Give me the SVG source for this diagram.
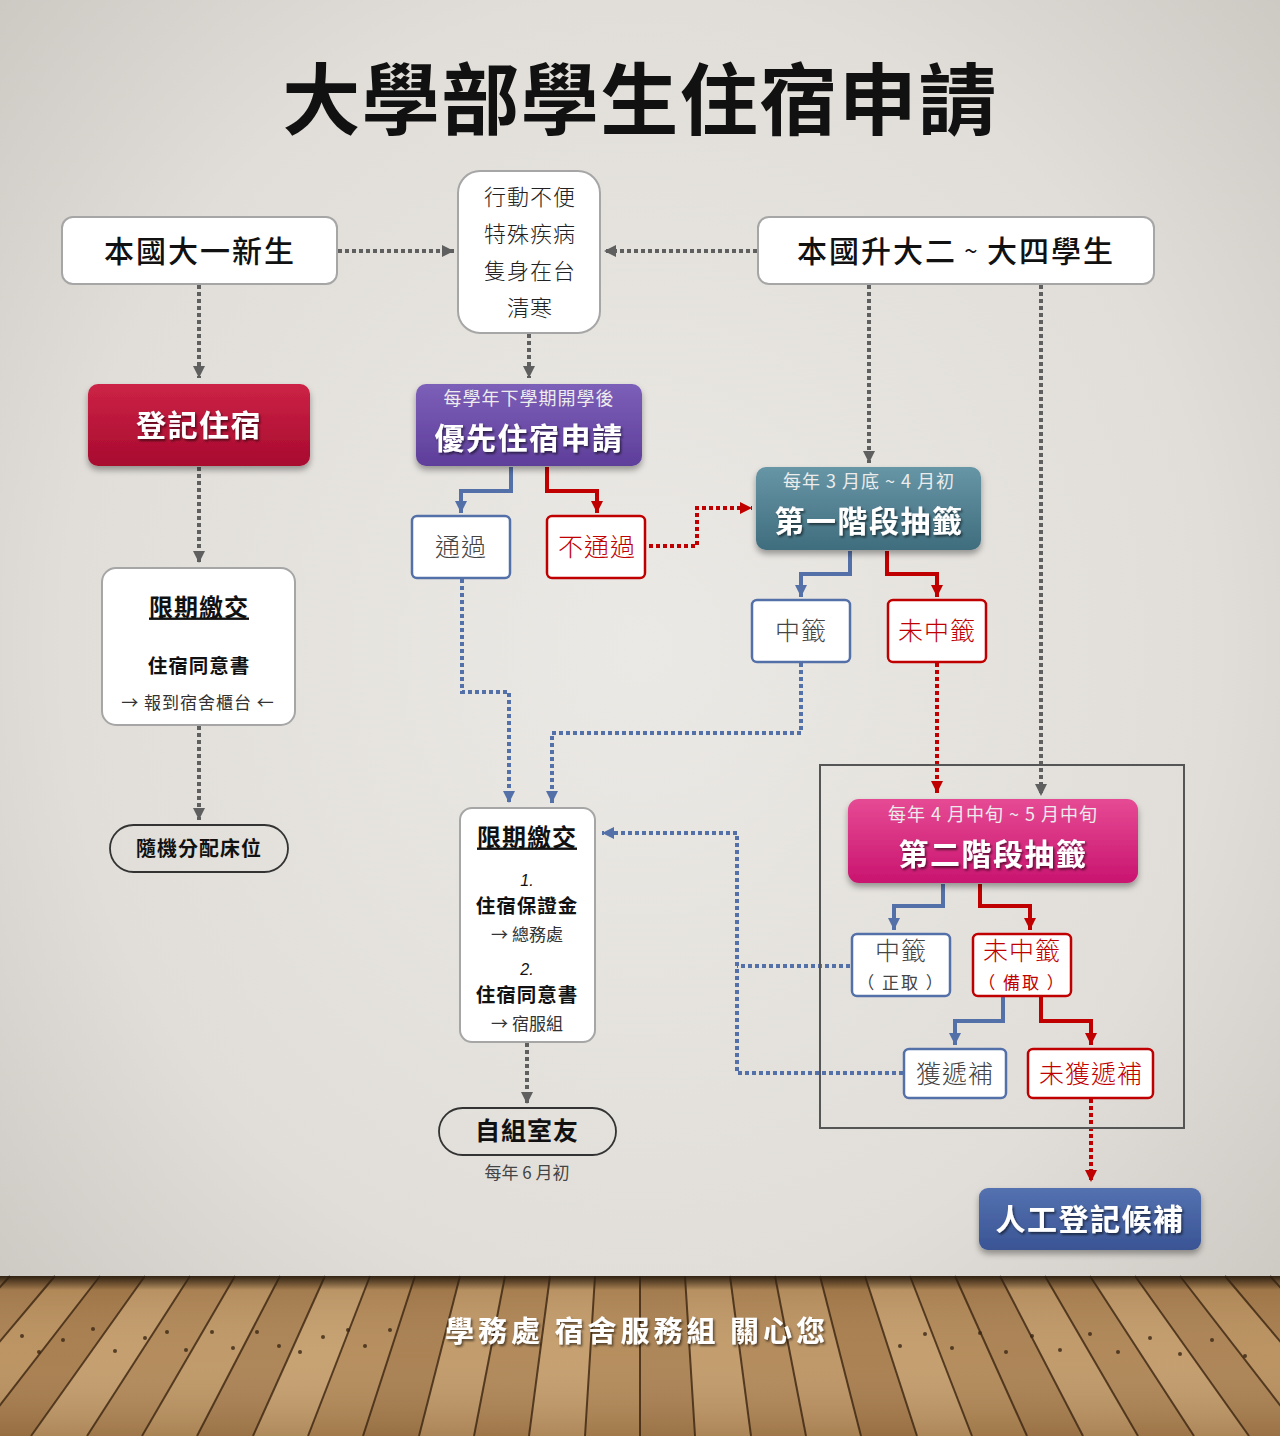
<svg xmlns="http://www.w3.org/2000/svg" width="1280" height="1436" viewBox="0 0 1280 1436">
<defs>
<radialGradient id="wall" cx="0.5" cy="0.45" r="0.75">
<stop offset="0" stop-color="#ebe9e5"/>
<stop offset="0.6" stop-color="#e1ded9"/>
<stop offset="1" stop-color="#c6c2bc"/>
</radialGradient>
<linearGradient id="floorShade" x1="0" y1="0" x2="0" y2="1">
<stop offset="0" stop-color="#2a1d10" stop-opacity="0.95"/>
<stop offset="1" stop-color="#2a1d10" stop-opacity="0"/>
</linearGradient>
<linearGradient id="floorTone" x1="0" y1="0" x2="0" y2="1">
<stop offset="0" stop-color="#5a3a1a" stop-opacity="0.15"/>
<stop offset="0.5" stop-color="#ffffff" stop-opacity="0.05"/>
<stop offset="1" stop-color="#5a3a1a" stop-opacity="0.2"/>
</linearGradient>
<linearGradient id="gRed" x1="0" y1="0" x2="0" y2="1">
<stop offset="0" stop-color="#cc2346"/>
<stop offset="1" stop-color="#a80a2f"/>
</linearGradient>
<linearGradient id="gPurple" x1="0" y1="0" x2="0" y2="1">
<stop offset="0" stop-color="#7c5fb8"/>
<stop offset="1" stop-color="#5e3e9a"/>
</linearGradient>
<linearGradient id="gTeal" x1="0" y1="0" x2="0" y2="1">
<stop offset="0" stop-color="#6796a6"/>
<stop offset="1" stop-color="#3f6d7e"/>
</linearGradient>
<linearGradient id="gPink" x1="0" y1="0" x2="0" y2="1">
<stop offset="0" stop-color="#e64a94"/>
<stop offset="1" stop-color="#c9146f"/>
</linearGradient>
<linearGradient id="gBlue" x1="0" y1="0" x2="0" y2="1">
<stop offset="0" stop-color="#5471b0"/>
<stop offset="1" stop-color="#3a5494"/>
</linearGradient>
<filter id="shadow" x="-10%" y="-10%" width="120%" height="130%">
<feDropShadow dx="0" dy="4" stdDeviation="3" flood-color="#000" flood-opacity="0.35"/>
</filter>
<filter id="tshadow" x="-10%" y="-20%" width="120%" height="150%">
<feDropShadow dx="1.5" dy="2" stdDeviation="1" flood-color="#000" flood-opacity="0.55"/>
</filter>
<marker id="aGray" markerUnits="userSpaceOnUse" markerWidth="13" markerHeight="12" refX="12" refY="6" orient="auto">
<path d="M0,0 L12,6 L0,12 z" fill="#5f5f5f"/>
</marker>
<marker id="aBlue" markerUnits="userSpaceOnUse" markerWidth="13" markerHeight="12" refX="12" refY="6" orient="auto">
<path d="M0,0 L12,6 L0,12 z" fill="#5470a8"/>
</marker>
<marker id="aRed" markerUnits="userSpaceOnUse" markerWidth="13" markerHeight="12" refX="12" refY="6" orient="auto">
<path d="M0,0 L12,6 L0,12 z" fill="#c00000"/>
</marker>
</defs>
<style>
text { font-family: "Noto Sans CJK TC", "Noto Sans CJK SC", "Liberation Sans", sans-serif; dominant-baseline: central; text-anchor: middle; }
.wbox { fill: #ffffff; stroke: #a6a6a6; stroke-width: 2; }
.bbox { fill: #ffffff; stroke: #5470a8; stroke-width: 2.5; }
.rbox { fill: #ffffff; stroke: #c00000; stroke-width: 2.5; }
.pill { fill: none; stroke: #333333; stroke-width: 1.8; }
.big { font-size: 30px; font-weight: 500; fill: #111; letter-spacing: 2px; }
.cbig { font-size: 30px; font-weight: 700; fill: #ffffff; letter-spacing: 1.5px; }
.csub { font-size: 18px; fill: #ececec; letter-spacing: 1px; }
.reg { font-size: 25px; font-weight: 300; fill: #444; letter-spacing: 1px; }
.regr { font-size: 25px; font-weight: 300; fill: #c00000; letter-spacing: 1px; }
.sm { font-size: 17px; font-weight: 400; fill: #333; }
.hd { font-size: 24px; font-weight: 700; fill: #111; letter-spacing: 1px; text-decoration: underline; }
.bd { font-size: 19.5px; font-weight: 700; fill: #111; letter-spacing: 1px; }
.num { font-size: 16px; font-style: italic; font-family: "Liberation Sans", sans-serif; fill: #111; }
.dG { fill: none; stroke: #5f5f5f; stroke-width: 4; stroke-dasharray: 4 3; }
.dB { fill: none; stroke: #5470a8; stroke-width: 4; stroke-dasharray: 4 3; }
.dR { fill: none; stroke: #c00000; stroke-width: 4; stroke-dasharray: 4 3; }
.sB { fill: none; stroke: #5470a8; stroke-width: 4; }
.sR { fill: none; stroke: #c00000; stroke-width: 4; }
.plank { stroke: #3a2410; stroke-width: 2; opacity: 0.8; }
</style>

<!-- background -->
<rect x="0" y="0" width="1280" height="1436" fill="url(#wall)"/>
<g id="floor-area">
<rect x="0" y="1276" width="1280" height="160" fill="#b48a58"/>
<g>
<polygon points="10,1276 55,1276 -80,1436 -135,1436" fill="#a87e4e"/>
<polygon points="55,1276 100,1276 -24,1436 -80,1436" fill="#b98f5c"/>
<polygon points="100,1276 145,1276 31,1436 -24,1436" fill="#a57a49"/>
<polygon points="145,1276 190,1276 87,1436 31,1436" fill="#c29a68"/>
<polygon points="190,1276 235,1276 142,1436 87,1436" fill="#b08655"/>
<polygon points="235,1276 280,1276 197,1436 142,1436" fill="#bd9562"/>
<polygon points="280,1276 325,1276 253,1436 197,1436" fill="#a98050"/>
<polygon points="325,1276 370,1276 308,1436 253,1436" fill="#c49d6b"/>
<polygon points="370,1276 415,1276 363,1436 308,1436" fill="#b38957"/>
<polygon points="415,1276 460,1276 419,1436 363,1436" fill="#a67c4c"/>
<polygon points="460,1276 505,1276 474,1436 419,1436" fill="#bf9765"/>
<polygon points="505,1276 550,1276 529,1436 474,1436" fill="#ae8453"/>
<polygon points="550,1276 595,1276 585,1436 529,1436" fill="#c39b69"/>
<polygon points="595,1276 640,1276 640,1436 585,1436" fill="#b28856"/>
<polygon points="640,1276 685,1276 695,1436 640,1436" fill="#a98050"/>
<polygon points="685,1276 730,1276 751,1436 695,1436" fill="#c09866"/>
<polygon points="730,1276 775,1276 806,1436 751,1436" fill="#b08655"/>
<polygon points="775,1276 820,1276 861,1436 806,1436" fill="#bc9361"/>
<polygon points="820,1276 865,1276 917,1436 861,1436" fill="#a67b4a"/>
<polygon points="865,1276 910,1276 972,1436 917,1436" fill="#c29a68"/>
<polygon points="910,1276 955,1276 1027,1436 972,1436" fill="#b18755"/>
<polygon points="955,1276 1000,1276 1083,1436 1027,1436" fill="#a87e4e"/>
<polygon points="1000,1276 1045,1276 1138,1436 1083,1436" fill="#be9664"/>
<polygon points="1045,1276 1090,1276 1194,1436 1138,1436" fill="#ad8352"/>
<polygon points="1090,1276 1135,1276 1249,1436 1194,1436" fill="#c19967"/>
<polygon points="1135,1276 1180,1276 1304,1436 1249,1436" fill="#a97f4f"/>
<polygon points="1180,1276 1225,1276 1360,1436 1304,1436" fill="#b88e5b"/>
<polygon points="1225,1276 1270,1276 1415,1436 1360,1436" fill="#a57a49"/>
<polygon points="1270,1276 1315,1276 1470,1436 1415,1436" fill="#bb9260"/>
</g>
<rect x="0" y="1276" width="1280" height="160" fill="url(#floorTone)"/>
<g>
<line class="plank" x1="640" y1="1276" x2="640" y2="1436"/>
<line class="plank" x1="685" y1="1276" x2="695" y2="1436"/>
<line class="plank" x1="730" y1="1276" x2="751" y2="1436"/>
<line class="plank" x1="775" y1="1276" x2="806" y2="1436"/>
<line class="plank" x1="820" y1="1276" x2="861" y2="1436"/>
<line class="plank" x1="865" y1="1276" x2="917" y2="1436"/>
<line class="plank" x1="910" y1="1276" x2="972" y2="1436"/>
<line class="plank" x1="955" y1="1276" x2="1027" y2="1436"/>
<line class="plank" x1="1000" y1="1276" x2="1083" y2="1436"/>
<line class="plank" x1="1045" y1="1276" x2="1138" y2="1436"/>
<line class="plank" x1="1090" y1="1276" x2="1194" y2="1436"/>
<line class="plank" x1="1135" y1="1276" x2="1249" y2="1436"/>
<line class="plank" x1="1180" y1="1276" x2="1304" y2="1436"/>
<line class="plank" x1="1225" y1="1276" x2="1360" y2="1436"/>
<line class="plank" x1="1270" y1="1276" x2="1415" y2="1436"/>
<line class="plank" x1="595" y1="1276" x2="585" y2="1436"/>
<line class="plank" x1="550" y1="1276" x2="529" y2="1436"/>
<line class="plank" x1="505" y1="1276" x2="474" y2="1436"/>
<line class="plank" x1="460" y1="1276" x2="419" y2="1436"/>
<line class="plank" x1="415" y1="1276" x2="363" y2="1436"/>
<line class="plank" x1="370" y1="1276" x2="308" y2="1436"/>
<line class="plank" x1="325" y1="1276" x2="253" y2="1436"/>
<line class="plank" x1="280" y1="1276" x2="197" y2="1436"/>
<line class="plank" x1="235" y1="1276" x2="142" y2="1436"/>
<line class="plank" x1="190" y1="1276" x2="87" y2="1436"/>
<line class="plank" x1="145" y1="1276" x2="31" y2="1436"/>
<line class="plank" x1="100" y1="1276" x2="-24" y2="1436"/>
<line class="plank" x1="55" y1="1276" x2="-80" y2="1436"/>
<line class="plank" x1="10" y1="1276" x2="-135" y2="1436"/>
</g>
<g fill="#3a2614" opacity="0.8">
<circle cx="22" cy="1336" r="2"/><circle cx="39" cy="1352" r="2"/><circle cx="63" cy="1340" r="2"/><circle cx="93" cy="1329" r="2"/><circle cx="115" cy="1351" r="2"/><circle cx="145" cy="1338" r="2"/><circle cx="167" cy="1332" r="2"/><circle cx="186" cy="1350" r="2"/><circle cx="212" cy="1332" r="2"/><circle cx="233" cy="1348" r="2"/><circle cx="257" cy="1332" r="2"/><circle cx="279" cy="1346" r="2"/><circle cx="300" cy="1352" r="2"/><circle cx="323" cy="1337" r="2"/><circle cx="348" cy="1330" r="2"/><circle cx="365" cy="1346" r="2"/><circle cx="390" cy="1330" r="2"/><circle cx="900" cy="1346" r="2"/><circle cx="925" cy="1334" r="2"/><circle cx="952" cy="1348" r="2"/><circle cx="980" cy="1333" r="2"/><circle cx="1006" cy="1352" r="2"/><circle cx="1032" cy="1336" r="2"/><circle cx="1060" cy="1350" r="2"/><circle cx="1090" cy="1334" r="2"/><circle cx="1118" cy="1352" r="2"/><circle cx="1150" cy="1338" r="2"/><circle cx="1180" cy="1354" r="2"/><circle cx="1212" cy="1340" r="2"/><circle cx="1245" cy="1356" r="2"/>
</g>
<rect x="0" y="1276" width="1280" height="14" fill="url(#floorShade)"/>
</g>

<!-- title -->
<text id="title" x="640" y="95" style="font-size:78px;font-weight:700;fill:#111;letter-spacing:1.5px">大學部學生住宿申請</text>

<!-- connectors -->
<g id="connectors">
<path class="dG" d="M338,251 H454" marker-end="url(#aGray)"/>
<path class="dG" d="M757,251 H604" marker-end="url(#aGray)"/>
<path class="dG" d="M199,285 V378" marker-end="url(#aGray)"/>
<path class="dG" d="M529,334 V378" marker-end="url(#aGray)"/>
<path class="dG" d="M869,285 V463" marker-end="url(#aGray)"/>
<path class="dG" d="M1041,285 V796" marker-end="url(#aGray)"/>
<path class="dG" d="M199,467 V563" marker-end="url(#aGray)"/>
<path class="dG" d="M199,726 V820" marker-end="url(#aGray)"/>
<path class="dG" d="M527,1043 V1104" marker-end="url(#aGray)"/>

<path class="sB" d="M511,467 V491 H461 V513" marker-end="url(#aBlue)"/>
<path class="sR" d="M547,467 V491 H597 V513" marker-end="url(#aRed)"/>
<path class="dR" d="M649,546 H697 V508 H752" marker-end="url(#aRed)"/>

<path class="sB" d="M850,551 V574 H801 V597" marker-end="url(#aBlue)"/>
<path class="sR" d="M887,551 V574 H937 V597" marker-end="url(#aRed)"/>

<path class="dB" d="M462,579 V692 H509 V803" marker-end="url(#aBlue)"/>
<path class="dB" d="M801,663 V733 H552 V803" marker-end="url(#aBlue)"/>
<path class="dR" d="M937,663 V793" marker-end="url(#aRed)"/>

<path class="sB" d="M943,884 V906 H894 V930" marker-end="url(#aBlue)"/>
<path class="sR" d="M980,884 V906 H1030 V930" marker-end="url(#aRed)"/>
<path class="sB" d="M1003,997 V1021 H955 V1045" marker-end="url(#aBlue)"/>
<path class="sR" d="M1041,997 V1021 H1091 V1045" marker-end="url(#aRed)"/>

<path class="dB" d="M850,966 H737"/>
<path class="dB" d="M903,1073 H737 V833 H602" marker-end="url(#aBlue)"/>
<path class="dR" d="M1091,1099 V1182" marker-end="url(#aRed)"/>
</g>

<!-- frame -->
<rect id="stage2-frame" x="820" y="765" width="364" height="363" fill="none" stroke="#555" stroke-width="2"/>

<!-- nodes -->
<g id="n-freshman">
<rect class="wbox" x="62" y="217" width="275" height="67" rx="11"/>
<text class="big" x="200" y="249">本國大一新生</text>
</g>
<g id="n-special">
<rect class="wbox" x="458" y="171" width="142" height="162" rx="22"/>
<text class="sm" x="530" y="195" style="font-size:22px;font-weight:300;fill:#222;letter-spacing:1px">行動不便</text>
<text class="sm" x="530" y="232" style="font-size:22px;font-weight:300;fill:#222;letter-spacing:1px">特殊疾病</text>
<text class="sm" x="530" y="269" style="font-size:22px;font-weight:300;fill:#222;letter-spacing:1px">隻身在台</text>
<text class="sm" x="530" y="306" style="font-size:22px;font-weight:300;fill:#222;letter-spacing:1px">清寒</text>
</g>
<g id="n-upper">
<rect class="wbox" x="758" y="217" width="396" height="67" rx="11"/>
<text class="big" x="956" y="249">本國升大二<tspan style="font-size:24px;font-weight:400"> ~ </tspan>大四學生</text>
</g>
<g id="n-register">
<rect x="88" y="384" width="222" height="82" rx="10" fill="url(#gRed)" filter="url(#shadow)"/>
<text class="cbig" x="199" y="423" filter="url(#tshadow)">登記住宿</text>
</g>
<g id="n-priority">
<rect x="416" y="384" width="226" height="82" rx="10" fill="url(#gPurple)" filter="url(#shadow)"/>
<text class="csub" x="529" y="397">每學年下學期開學後</text>
<text class="cbig" x="529" y="436" filter="url(#tshadow)">優先住宿申請</text>
</g>
<g id="n-stage1">
<rect x="756" y="467" width="225" height="83" rx="10" fill="url(#gTeal)" filter="url(#shadow)"/>
<text class="csub" x="869" y="480">每年 3 月底 ~ 4 月初</text>
<text class="cbig" x="869" y="519" filter="url(#tshadow)">第一階段抽籤</text>
</g>
<g id="n-pass">
<rect class="bbox" x="412" y="516" width="98" height="62" rx="5"/>
<text class="reg" x="461" y="545">通過</text>
</g>
<g id="n-fail">
<rect class="rbox" x="547" y="516" width="98" height="62" rx="5"/>
<text class="regr" x="597" y="545">不通過</text>
</g>
<g id="n-win1">
<rect class="bbox" x="752" y="600" width="98" height="62" rx="5"/>
<text class="reg" x="801" y="629">中籤</text>
</g>
<g id="n-lose1">
<rect class="rbox" x="888" y="600" width="98" height="62" rx="5"/>
<text class="regr" x="937" y="629">未中籤</text>
</g>
<g id="n-pay-left">
<rect class="wbox" x="102" y="568" width="193" height="157" rx="14"/>
<text class="hd" x="199" y="605">限期繳交</text>
<text class="bd" x="199" y="664">住宿同意書</text>
<text class="sm" x="198" y="701" style="letter-spacing:1px">→ 報到宿舍櫃台 ←</text>
</g>
<g id="n-random">
<rect class="pill" x="110" y="825" width="178" height="47" rx="23.5"/>
<text class="bd" x="199" y="847" style="font-size:20px">隨機分配床位</text>
</g>
<g id="n-pay-mid">
<rect class="wbox" x="460" y="808" width="135" height="234" rx="12"/>
<text class="hd" x="527" y="835">限期繳交</text>
<text class="num" x="527" y="880">1.</text>
<text class="bd" x="527" y="904">住宿保證金</text>
<text class="sm" x="527" y="933">→ 總務處</text>
<text class="num" x="527" y="969">2.</text>
<text class="bd" x="527" y="993">住宿同意書</text>
<text class="sm" x="527" y="1022">→ 宿服組</text>
</g>
<g id="n-roommate">
<rect class="pill" x="439" y="1108" width="177" height="47" rx="23.5"/>
<text class="bd" x="527" y="1129" style="font-size:25px">自組室友</text>
<text class="sm" x="527" y="1171" style="fill:#444">每年 6 月初</text>
</g>
<g id="n-stage2">
<rect x="848" y="799" width="290" height="84" rx="11" fill="url(#gPink)" filter="url(#shadow)"/>
<text class="csub" x="993" y="813">每年 4 月中旬 ~ 5 月中旬</text>
<text class="cbig" x="993" y="852" filter="url(#tshadow)">第二階段抽籤</text>
</g>
<g id="n-win2">
<rect class="bbox" x="852" y="934" width="98" height="62" rx="5"/>
<text class="reg" x="901" y="949">中籤</text>
<text class="sm" x="901" y="981" style="fill:#444;letter-spacing:2px">（ 正取 ）</text>
</g>
<g id="n-lose2">
<rect class="rbox" x="973" y="934" width="98" height="62" rx="5"/>
<text class="regr" x="1022" y="949">未中籤</text>
<text class="sm" x="1022" y="981" style="fill:#c00000;letter-spacing:2px">（ 備取 ）</text>
</g>
<g id="n-filled">
<rect class="bbox" x="904" y="1049" width="102" height="49" rx="5"/>
<text class="reg" x="955" y="1072">獲遞補</text>
</g>
<g id="n-notfilled">
<rect class="rbox" x="1028" y="1049" width="125" height="49" rx="5"/>
<text class="regr" x="1091" y="1072">未獲遞補</text>
</g>
<g id="n-manual">
<rect x="979" y="1188" width="222" height="62" rx="9" fill="url(#gBlue)" filter="url(#shadow)"/>
<text class="cbig" x="1090" y="1217" filter="url(#tshadow)">人工登記候補</text>
</g>

<!-- footer -->
<text id="footer" x="637" y="1329" filter="url(#tshadow)" style="font-size:29px;font-weight:700;fill:#ffffff;letter-spacing:4px">學務處 宿舍服務組 關心您</text>
</svg>
